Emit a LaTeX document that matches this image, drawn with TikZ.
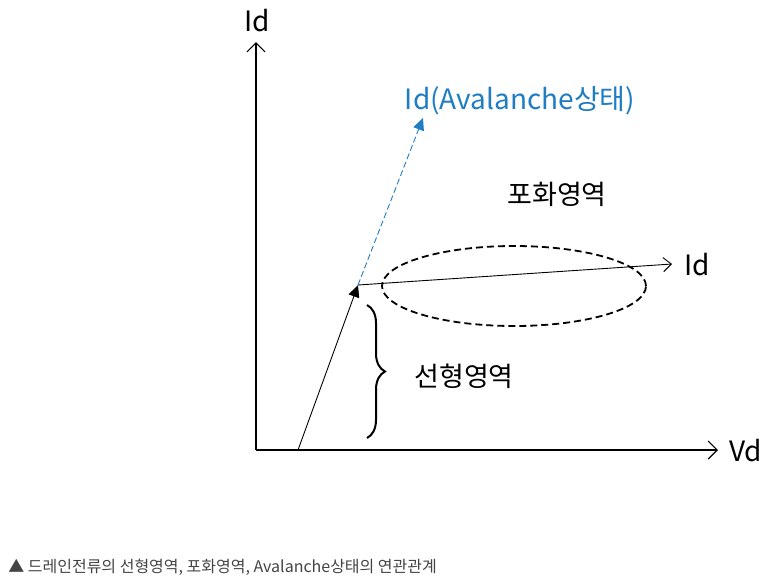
\documentclass[tikz,border=0pt]{standalone}
\usepackage{fontspec}
\setmainfont{Noto Sans CJK KR}
\usetikzlibrary{arrows.meta,positioning,shapes.geometric,decorations.pathreplacing}
\tikzset{
  >=Stealth,
  every picture/.append style={line width=0.6pt},
}
\definecolor{avblue}{HTML}{1F7DC4}
\definecolor{capgray}{HTML}{444444}
\begin{document}
\begin{tikzpicture}[
  x=1pt, y=-1pt,
  axis/.style   ={line width=1.2pt, -{Straight Barb[length=9pt,width=18pt]}},
  curve/.style  ={line width=0.9pt},
  tipfill/.style={-{Triangle[length=12pt,width=11pt]}},
  label/.style  ={font=\fontsize{28}{32}\selectfont, inner sep=0pt},
  region/.style ={font=\fontsize{27}{31}\selectfont, inner sep=0pt},
  caption/.style={font=\fontsize{16}{19}\selectfont, text=capgray, inner sep=0pt, anchor=west}
]
\useasboundingbox (0,0) rectangle (772,582);

% axes
\coordinate (origin) at (256,450);
\coordinate (ytop) at (256,42);
\coordinate (xend) at (718,450);
\draw[axis] (origin) -- (ytop);
\draw[axis] (origin) -- (xend);
\node[label] (idaxis) at (257,21) {Id};
\node[label, anchor=west] (vd) at (729,451) {Vd};

% linear region and knee
\coordinate (start) at (298,450);
\coordinate (knee) at (358,285);
\coordinate (satend) at (672,264);
\coordinate (aval) at (423,118);
\draw[curve, tipfill] (start) -- (knee);
\draw[curve, -{Straight Barb[length=8pt,width=14pt]}] (knee) -- (satend);
\draw[curve, avblue, dashed, dash pattern=on 6pt off 3pt, tipfill] (knee) -- (aval);

\node[label, anchor=west] (idsat) at (684,265) {Id};
\node[label, avblue] (idaval) at (520,101) {Id(Avalanche상태)};

% saturation region
\node[draw, dashed, dash pattern=on 7pt off 4pt, line width=1.8pt, ellipse,
      minimum width=264pt, minimum height=80pt] (satzone) at (514,286) {};
\node[region] (satlabel) at (557,194) {포화영역};

% linear region brace
\coordinate (btop) at (367,305);
\coordinate (bbot) at (367,438);
\draw[line width=2pt, decorate, decoration={brace, amplitude=18pt}] (btop) -- (bbot);
\node[region] (linlabel) at (464,376) {선형영역};

% caption
\node[caption] (cap) at (8,567) {▲ 드레인전류의 선형영역, 포화영역, Avalanche상태의 연관관계};
\end{tikzpicture}
\end{document}
